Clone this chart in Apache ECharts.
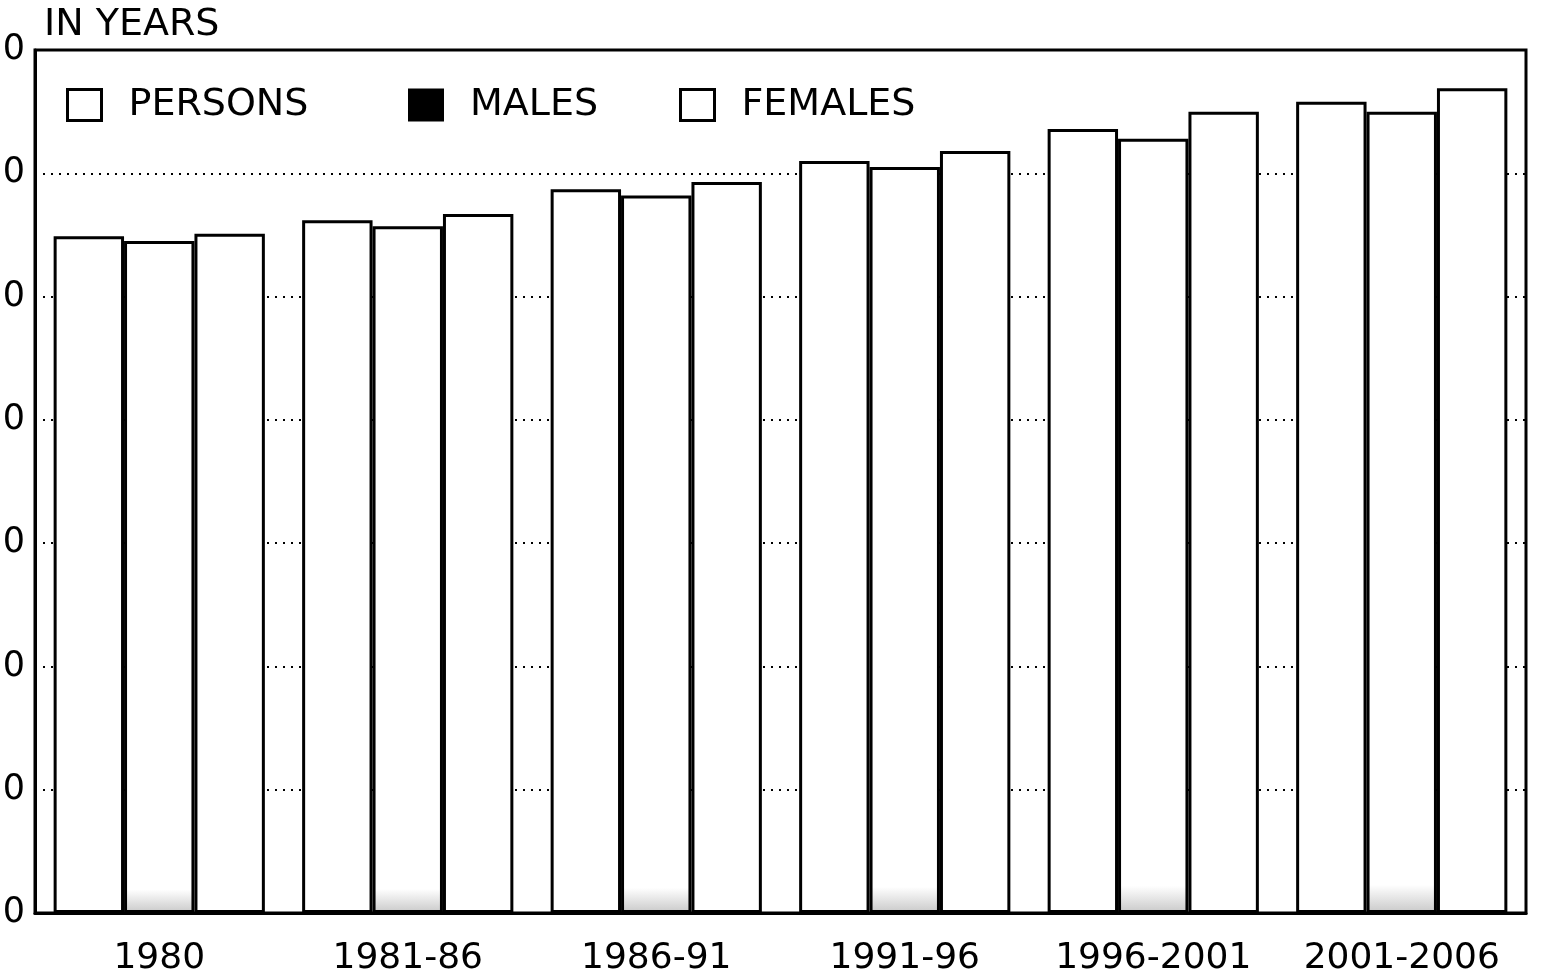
<!DOCTYPE html>
<html>
<head>
<meta charset="utf-8">
<title>Life expectancy</title>
<script src="https://cdn.jsdelivr.net/npm/echarts@6/dist/echarts.min.js"></script>
<style>
  html, body { margin: 0; padding: 0; background: #fff; }
  #main { width: 1557px; height: 978px; }
</style>
</head>
<body>
<div id="main"></div>
<script>
// categories and values (years)
const periods = ['1980', '1981-86', '1986-91', '1991-96', '1996-2001', '2001-2006']
const persons = [54.9, 56.2, 58.7, 61.0, 63.6, 65.8]
const males = [54.5, 55.7, 58.2, 60.5, 62.8, 65.0]
const females = [55.1, 56.7, 59.3, 61.8, 65.0, 66.9]
const yTicks = [0, 10, 20, 30, 40, 50, 60, 70]

const font = 'DejaVu Sans'
const chart = echarts.init(document.getElementById('main'))

const barStyle = {
  color: '#fff',
  borderColor: '#000',
  borderWidth: 3
}

function legendAt(name, left, filled) {
  return {
    data: [{
      name: name,
      itemStyle: filled
        ? { color: '#000', borderColor: '#000', borderWidth: 2 }
        : { color: '#fff', borderColor: '#000', borderWidth: 3 }
    }],
    left: left,
    top: 86,
    padding: 0,
    icon: 'rect',
    itemWidth: 34,
    itemHeight: 31,
    selectedMode: false,
    textStyle: {
      fontFamily: font,
      fontSize: 38,
      color: '#000',
      padding: [4, 0, 0, 22]
    }
  }
}

const option = {
  backgroundColor: '#fff',
  animation: false,
  title: {
    text: 'IN YEARS',
    left: 44,
    top: 6,
    padding: 0,
    textStyle: { fontFamily: font, fontSize: 38, fontWeight: 'normal', color: '#000' }
  },
  legend: [
    legendAt('PERSONS', 66, false),
    legendAt('MALES', 408, true),
    legendAt('FEMALES', 679, false)
  ],
  grid: {
    left: 35,
    right: 31,
    top: 50,
    bottom: 65,
    show: true,
    borderColor: '#000',
    borderWidth: 3,
    containLabel: false,
    outerBoundsMode: 'none'
  },
  xAxis: {
    type: 'category',
    data: periods,
    axisLine: { show: true, lineStyle: { color: '#000', width: 3 } },
    axisTick: { show: false },
    axisLabel: {
      fontFamily: font,
      fontSize: 36,
      color: '#000',
      margin: 28,
      interval: 0
    }
  },
  yAxis: {
    type: 'value',
    min: yTicks[0],
    max: yTicks[yTicks.length - 1],
    interval: 10,
    axisLine: { show: true, lineStyle: { color: '#000', width: 3 } },
    axisTick: { show: false },
    axisLabel: {
      fontFamily: font,
      fontSize: 35,
      color: '#000',
      margin: 10,
      padding: [0, 0, 10, 0],
      // the scan cuts off the tens digit; keep digits apart so only the last one shows
      formatter: (v) => String(v).split('').join('\u2009')
    },
    splitLine: {
      show: true,
      lineStyle: { color: '#000', width: 2, type: [2, 6] }
    }
  },
  series: [
    {
      name: 'PERSONS',
      type: 'bar',
      data: persons,
      barGap: '0%',
      barCategoryGap: '15%',
      itemStyle: barStyle
    },
    {
      name: 'MALES',
      type: 'bar',
      data: males,
      barGap: '0%',
      barCategoryGap: '15%',
      itemStyle: {
        color: new echarts.graphic.LinearGradient(0, 0, 0, 1, [
          { offset: 0, color: '#fff' },
          { offset: 0.965, color: '#fff' },
          { offset: 1, color: '#c8c8c8' }
        ]),
        borderColor: '#000',
        borderWidth: 3
      }
    },
    {
      name: 'FEMALES',
      type: 'bar',
      data: females,
      barGap: '0%',
      barCategoryGap: '15%',
      itemStyle: barStyle
    }
  ]
}

option && chart.setOption(option)
</script>
</body>
</html>
